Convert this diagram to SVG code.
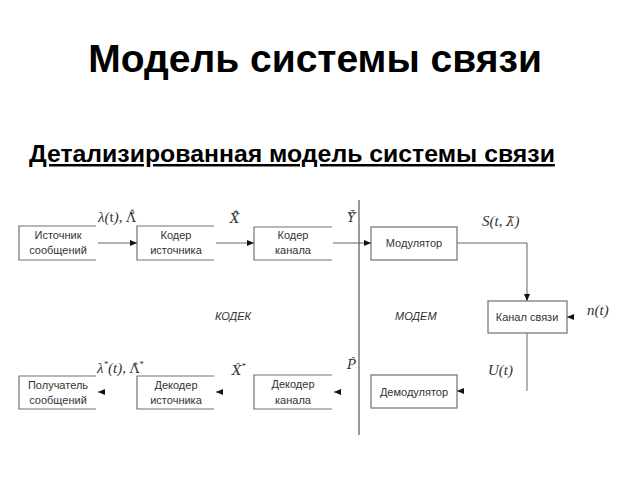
<svg xmlns="http://www.w3.org/2000/svg" width="640" height="480" viewBox="0 0 640 480">
<style>
.t{font-family:"Liberation Sans",Arial,sans-serif;fill:#000;font-weight:bold}
.b{fill:none;stroke:#707070;stroke-width:1.2}
.bt{font-family:"Liberation Sans",Arial,sans-serif;font-size:11px;fill:#333;text-anchor:middle}
.m{font-family:"Liberation Serif","Times New Roman",serif;font-size:15px;fill:#333;font-style:italic}
.d{font-family:"DejaVu Serif",serif;font-size:13px}
.l{fill:none;stroke:#666;stroke-width:1}
.it{font-family:"Liberation Sans",Arial,sans-serif;font-size:11px;font-style:italic;fill:#333}
</style>
<defs>
<marker id="ah" markerWidth="8" markerHeight="8" refX="7" refY="4" orient="auto" markerUnits="userSpaceOnUse">
<path d="M0,1 L7,4 L0,7 Z" fill="#111"/>
</marker>
</defs>
<rect width="640" height="480" fill="#fff"/>
<text class="t" x="315" y="72" font-size="39" text-anchor="middle">Модель системы связи</text>
<text class="t" x="29" y="162" font-size="24.8" text-decoration="underline">Детализированная модель системы связи</text>

<g id="src">
<path class="b" d="M96,226 H19 V260 H96"/>
<text class="bt" x="58" y="239">Источник</text>
<text class="bt" x="58" y="254">сообщений</text>
</g>
<g id="srcenc">
<path class="b" d="M214,226 H137 V260 H214"/>
<text class="bt" x="176" y="239">Кодер</text>
<text class="bt" x="176" y="254">источника</text>
</g>
<g id="chenc">
<path class="b" d="M332,227 H254 V260 H332"/>
<text class="bt" x="293" y="239">Кодер</text>
<text class="bt" x="293" y="254">канала</text>
</g>
<g id="mod">
<rect class="b" x="371" y="227" width="86" height="33"/>
<text class="bt" x="414" y="247">Модулятор</text>
</g>
<g id="chan">
<rect class="b" x="488" y="301" width="79" height="32"/>
<text class="bt" x="527" y="321">Канал связи</text>
</g>
<g id="dst">
<path class="b" d="M96,376 H19 V409 H96"/>
<text class="bt" x="58" y="389">Получатель</text>
<text class="bt" x="58" y="404">сообщений</text>
</g>
<g id="srcdec">
<path class="b" d="M214,376 H137 V409 H214"/>
<text class="bt" x="176" y="389">Декодер</text>
<text class="bt" x="176" y="404">источника</text>
</g>
<g id="chdec">
<path class="b" d="M332,375 H254 V409 H332"/>
<text class="bt" x="293" y="388">Декодер</text>
<text class="bt" x="293" y="404">канала</text>
</g>
<g id="demod">
<rect class="b" x="371" y="375" width="86" height="33"/>
<text class="bt" x="414" y="396">Демодулятор</text>
</g>

<g id="connectors">
<line class="l" x1="98" y1="243" x2="137" y2="243" marker-end="url(#ah)"/>
<line class="l" x1="216" y1="243" x2="254" y2="243" marker-end="url(#ah)"/>
<line class="l" x1="333" y1="243" x2="371" y2="243" marker-end="url(#ah)"/>
<path class="l" d="M457,243 H527 V301" marker-end="url(#ah)"/>
<line class="l" x1="574" y1="317" x2="567" y2="317" marker-end="url(#ah)"/>
<line class="l" x1="527" y1="333" x2="527" y2="391"/>
<line class="l" x1="464" y1="391" x2="457" y2="391" marker-end="url(#ah)"/>
<line class="l" x1="341" y1="392" x2="334" y2="392" marker-end="url(#ah)"/>
<line class="l" x1="223" y1="392" x2="216" y2="392" marker-end="url(#ah)"/>
<line class="l" x1="105" y1="392" x2="98" y2="392" marker-end="url(#ah)"/>
<line x1="359" y1="200" x2="359" y2="435" stroke="#555" stroke-width="1.2"/>
</g>

<g id="labels">
<text class="m" x="98" y="222">λ(<tspan font-style="normal">t</tspan>), <tspan class="d" font-style="normal">Λ̃̂</tspan></text>
<text class="m d" x="230" y="223">X̃̂</text>
<text class="m d" x="347" y="222">Ỹ̂</text>
<text class="m" x="482" y="226">S(t, <tspan class="d">λ̃</tspan>)</text>
<text class="m" x="587" y="315">n(t)</text>
<text class="m" x="488" y="375">U(t)</text>
<text class="m" x="97" y="373">λ<tspan font-size="9" dy="-6">*</tspan><tspan dy="6">(t), </tspan><tspan class="d" font-style="normal">Λ̂</tspan><tspan font-size="9" dy="-6">*</tspan></text>
<text class="m" x="232" y="375"><tspan class="d">X̂</tspan><tspan font-size="9" dy="-6">*</tspan></text>
<text class="m d" x="347" y="369">P̂</text>
<text class="it" x="215" y="320">КОДЕК</text>
<text class="it" x="395" y="320">МОДЕМ</text>
</g>
</svg>
